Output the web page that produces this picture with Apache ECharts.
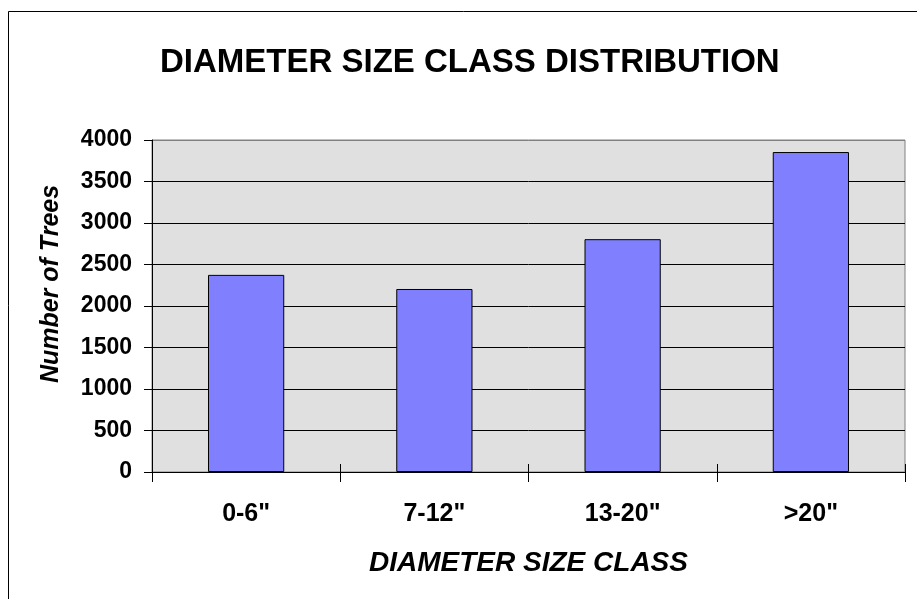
<!DOCTYPE html>
<html>
<head>
<meta charset="utf-8">
<script src="https://cdn.jsdelivr.net/npm/echarts@6/dist/echarts.min.js"></script>
<style>
  html, body { margin: 0; padding: 0; background: #fff; }
  #chart { width: 917px; height: 599px; }
</style>
</head>
<body>
<div id="chart"></div>
<script>
  // data
  var categories = ['0-6"', '7-12"', '13-20"', '>20"'];
  var treeCounts = [2375, 2205, 2805, 3855];
  var yTicks = [0, 500, 1000, 1500, 2000, 2500, 3000, 3500, 4000];

  var font = 'Arial, "Liberation Sans", sans-serif';
  var chart = echarts.init(document.getElementById('chart'));

  // gridlines black, the top one is the gray plot border
  var gridColors = yTicks.map(function (t, i) {
    return i == yTicks.length - 1 ? '#808080' : '#000';
  });

  var options = {
    animation: false,
    title: {
      text: 'DIAMETER SIZE CLASS DISTRIBUTION',
      left: 155,
      top: 41,
      textStyle: { fontFamily: font, fontSize: 33, fontWeight: 'bold', color: '#000' }
    },
    graphic: [{
      type: 'rect',
      shape: { x: 8.5, y: 11.5, width: 930, height: 620 },
      style: { fill: null, stroke: '#000', lineWidth: 1 },
      z: -1
    }],
    grid: {
      left: 152, top: 140, right: 12, bottom: 127,
      show: true,
      backgroundColor: '#e0e0e0',
      borderColor: '#808080',
      borderWidth: 1
    },
    xAxis: [{
      type: 'category',
      data: categories,
      name: 'DIAMETER SIZE CLASS',
      nameLocation: 'middle',
      nameGap: 77,
      nameTextStyle: { fontFamily: font, fontSize: 28, fontWeight: 'bold', fontStyle: 'italic', color: '#000' },
      axisLine: { lineStyle: { color: '#000', width: 1 } },
      axisTick: { show: true, length: 10, lineStyle: { color: '#000' } },
      axisLabel: { margin: 30, fontFamily: font, fontSize: 25, fontWeight: 'bold', color: '#000' }
    }, {
      // upper half of the crossing ticks
      type: 'category',
      data: categories,
      position: 'bottom',
      axisLine: { show: false },
      axisTick: { show: true, inside: true, length: 8, lineStyle: { color: '#000' } },
      axisLabel: { show: false }
    }],
    yAxis: {
      type: 'value',
      min: yTicks[0],
      max: yTicks[yTicks.length - 1],
      interval: 500,
      name: 'Number of Trees',
      nameLocation: 'middle',
      nameGap: 88,
      nameTextStyle: {
        fontFamily: font, fontSize: 25, fontWeight: 'bold', fontStyle: 'italic', color: '#000',
        padding: [0, 0, 0, 44]
      },
      axisLine: { show: true, lineStyle: { color: '#000', width: 1 } },
      axisTick: { show: true, length: 8, lineStyle: { color: '#000' } },
      axisLabel: {
        margin: 20, fontFamily: font, fontSize: 23, fontWeight: 'bold', color: '#000',
        formatter: function (v) { return String(v); }
      },
      splitLine: { show: true, lineStyle: { color: gridColors, width: 1 } }
    },
    series: [{
      type: 'bar',
      data: treeCounts,
      barWidth: '40.5%',
      itemStyle: { color: '#8080ff', borderColor: '#000', borderWidth: 1 }
    }]
  };

  chart.setOption(options);
</script>
</body>
</html>
